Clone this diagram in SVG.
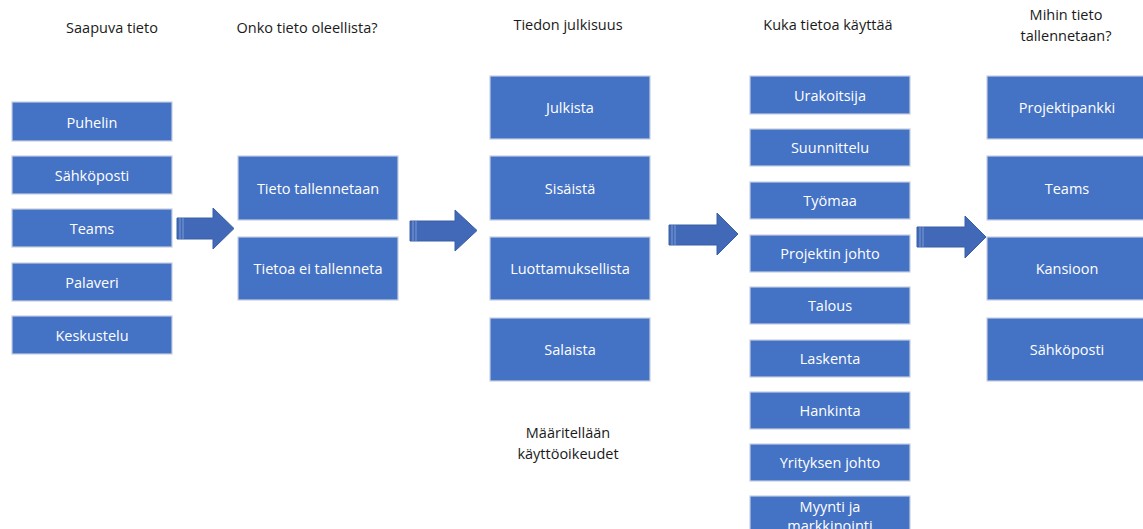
<svg xmlns="http://www.w3.org/2000/svg" width="1143" height="529" viewBox="0 0 1143 529">
<defs>
<style>
.box{fill:#4472C4;stroke:#c5cfe0;stroke-width:1.2}
.bt{font-family:"Open Sans","Liberation Sans",sans-serif;font-size:14.5px;fill:#ffffff;text-anchor:middle;dominant-baseline:central}
.hd{font-family:"Open Sans","Liberation Sans",sans-serif;font-size:14.5px;fill:#1a1a1a;text-anchor:middle}
.arr{fill:#4169b8;stroke:#3a5ea6;stroke-width:1}
.str{stroke:#7f9bd3;stroke-width:1}
</style>
</defs>
<rect width="1143" height="529" fill="#ffffff"/>
<g id="headers">
<text class="hd" x="112" y="33">Saapuva tieto</text>
<text class="hd" x="307" y="33">Onko tieto oleellista?</text>
<text class="hd" x="568" y="30">Tiedon julkisuus</text>
<text class="hd" x="828" y="30">Kuka tietoa käyttää</text>
<text class="hd" x="1066" y="20">Mihin tieto</text>
<text class="hd" x="1066" y="41">tallennetaan?</text>
<text class="hd" x="568" y="438">Määritellään</text>
<text class="hd" x="568" y="459">käyttöoikeudet</text>
</g>
<g id="col1">
<g id="n-puhelin"><rect class="box" x="12" y="102" width="160" height="39"/><text class="bt" x="92" y="122">Puhelin</text></g>
<g id="n-sahkoposti1"><rect class="box" x="12" y="156" width="160" height="38"/><text class="bt" x="92" y="175">Sähköposti</text></g>
<g id="n-teams1"><rect class="box" x="12" y="209" width="160" height="38"/><text class="bt" x="92" y="228">Teams</text></g>
<g id="n-palaveri"><rect class="box" x="12" y="263" width="160" height="38"/><text class="bt" x="92" y="282">Palaveri</text></g>
<g id="n-keskustelu"><rect class="box" x="12" y="316" width="160" height="38"/><text class="bt" x="92" y="335">Keskustelu</text></g>
</g>
<g id="col2">
<g id="n-tallennetaan"><rect class="box" x="238" y="156" width="160" height="64"/><text class="bt" x="318" y="188">Tieto tallennetaan</text></g>
<g id="n-ei"><rect class="box" x="238" y="237" width="160" height="63"/><text class="bt" x="318" y="268">Tietoa ei tallenneta</text></g>
</g>
<g id="col3">
<g id="n-julkista"><rect class="box" x="490" y="76" width="160" height="63"/><text class="bt" x="570" y="107">Julkista</text></g>
<g id="n-sisaista"><rect class="box" x="490" y="156" width="160" height="64"/><text class="bt" x="570" y="188">Sisäistä</text></g>
<g id="n-luottamuksellista"><rect class="box" x="490" y="237" width="160" height="63"/><text class="bt" x="570" y="268">Luottamuksellista</text></g>
<g id="n-salaista"><rect class="box" x="490" y="318" width="160" height="63"/><text class="bt" x="570" y="349">Salaista</text></g>
</g>
<g id="col4">
<g id="n-urakoitsija"><rect class="box" x="750" y="76" width="160" height="38"/><text class="bt" x="830" y="95">Urakoitsija</text></g>
<g id="n-suunnittelu"><rect class="box" x="750" y="129" width="160" height="37"/><text class="bt" x="830" y="147">Suunnittelu</text></g>
<g id="n-tyomaa"><rect class="box" x="750" y="182" width="160" height="37"/><text class="bt" x="830" y="200">Työmaa</text></g>
<g id="n-projektinjohto"><rect class="box" x="750" y="235" width="160" height="37"/><text class="bt" x="830" y="253">Projektin johto</text></g>
<g id="n-talous"><rect class="box" x="750" y="287" width="160" height="37"/><text class="bt" x="830" y="305">Talous</text></g>
<g id="n-laskenta"><rect class="box" x="750" y="340" width="160" height="37"/><text class="bt" x="830" y="358">Laskenta</text></g>
<g id="n-hankinta"><rect class="box" x="750" y="392" width="160" height="37"/><text class="bt" x="830" y="410">Hankinta</text></g>
<g id="n-yrityksenjohto"><rect class="box" x="750" y="444" width="160" height="37"/><text class="bt" x="830" y="462">Yrityksen johto</text></g>
<g id="n-myynti"><rect class="box" x="750" y="496" width="160" height="40"/><text class="bt" x="830" y="506">Myynti ja</text><text class="bt" x="830" y="525">markkinointi</text></g>
</g>
<g id="col5">
<g id="n-projektipankki"><rect class="box" x="987" y="76" width="160" height="63"/><text class="bt" x="1067" y="107">Projektipankki</text></g>
<g id="n-teams2"><rect class="box" x="987" y="156" width="160" height="64"/><text class="bt" x="1067" y="188">Teams</text></g>
<g id="n-kansioon"><rect class="box" x="987" y="237" width="160" height="63"/><text class="bt" x="1067" y="268">Kansioon</text></g>
<g id="n-sahkoposti2"><rect class="box" x="987" y="318" width="160" height="63"/><text class="bt" x="1067" y="349">Sähköposti</text></g>
</g>
<g id="connectors">
<g id="a1"><polygon class="arr" points="177,218 213,218 213,208 234,228.5 213,249 213,239 177,239"/><line class="str" x1="180" y1="218" x2="180" y2="239"/><line class="str" x1="183" y1="218" x2="183" y2="239"/></g>
<g id="a2"><polygon class="arr" points="410,221 455,221 455,210 477,230.5 455,251 455,241 410,241"/><line class="str" x1="413" y1="221" x2="413" y2="241"/><line class="str" x1="416" y1="221" x2="416" y2="241"/></g>
<g id="a3"><polygon class="arr" points="669,225 717,225 717,213 738,234 717,255 717,245 669,245"/><line class="str" x1="672" y1="225" x2="672" y2="245"/><line class="str" x1="675" y1="225" x2="675" y2="245"/></g>
<g id="a4"><polygon class="arr" points="917,227 965,227 965,216 986,237 965,258 965,247 917,247"/><line class="str" x1="920" y1="227" x2="920" y2="247"/><line class="str" x1="923" y1="227" x2="923" y2="247"/></g>
</g>
</svg>
